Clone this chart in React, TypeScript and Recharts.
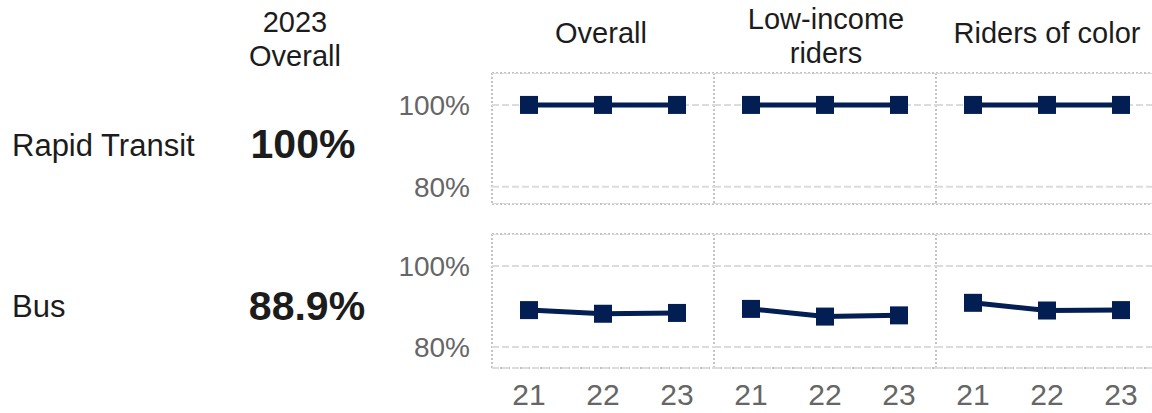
import React from "react";
import { LineChart, Line, XAxis, YAxis, CartesianGrid } from "recharts";

// years on the x axis of every panel
const YEARS = ["21", "22", "23"];
const COLUMNS = ["Overall", "Low-income riders", "Riders of color"];
const ROW_LABELS = ["Rapid Transit", "Bus"];
const OVERALL_2023 = ["100%", "88.9%"];
const Y_TICKS = [80, 100];

// share of trips on time, %
const RAPID_OVERALL = [100, 100, 100];
const RAPID_LOW_INCOME = [100, 100, 100];
const RAPID_RIDERS_OF_COLOR = [100, 100, 100];
const BUS_OVERALL = [89.1, 88.2, 88.4];
const BUS_LOW_INCOME = [89.4, 87.5, 87.8];
const BUS_RIDERS_OF_COLOR = [90.9, 89.0, 89.1];

const NAVY = "#021e52";
const FONT = "'Liberation Sans', Arial, sans-serif";
const TICK_GREY = "#666666";
const BORDER = "#c4c4c4";
const INK = "#1c1c1c";

const ROWS = [
  { series: [RAPID_OVERALL, RAPID_LOW_INCOME, RAPID_RIDERS_OF_COLOR], top: 73, plotH: 131, domain: [75.8, 107.8] },
  { series: [BUS_OVERALL, BUS_LOW_INCOME, BUS_RIDERS_OF_COLOR], top: 234, plotH: 134, domain: [74.8, 107.9] },
];

const PANEL_LEFT = [492, 714, 936];
const PANEL_W = 222;
const Y_AXIS_W = 112;
const X_AXIS_H = 45;

const SquareDot = (props: any) => {
  const { cx, cy } = props;
  if (cx == null || cy == null) return null;
  return <rect x={cx - 9} y={cy - 9} width={18} height={18} fill={NAVY} />;
};

function Panel({ values, col, row, isBottom }: { values: number[]; col: number; row: any; isBottom: boolean }) {
  const data = YEARS.map((y, i) => ({ year: y, value: values[i] }));
  const showY = col === 0;
  const width = PANEL_W + (showY ? Y_AXIS_W : 0);
  const height = row.plotH + (isBottom ? X_AXIS_H : 0);
  return (
    <div style={{ position: "absolute", left: PANEL_LEFT[col] - (showY ? Y_AXIS_W : 0), top: row.top }}>
      <LineChart width={width} height={height} data={data} margin={{ top: 0, right: 0, bottom: 0, left: 0 }}>
        <CartesianGrid vertical={false} stroke="#dcdcdc" strokeWidth={2} strokeDasharray="7 3" />
        <XAxis
          dataKey="year"
          scale="band"
          hide={!isBottom}
          height={X_AXIS_H}
          axisLine={false}
          tickLine={false}
          tickSize={0}
          tickMargin={16}
          tick={{ fill: TICK_GREY, fontSize: 30, fontFamily: FONT }}
          interval={0}
        />
        <YAxis
          type="number"
          domain={row.domain}
          ticks={Y_TICKS}
          hide={!showY}
          width={Y_AXIS_W}
          axisLine={false}
          tickLine={false}
          tickSize={0}
          tickMargin={22}
          tickFormatter={(v: number) => `${v}%`}
          tick={{ fill: TICK_GREY, fontSize: 28, fontFamily: FONT }}
          allowDataOverflow
        />
        <Line
          type="linear"
          dataKey="value"
          stroke={NAVY}
          strokeWidth={5}
          dot={<SquareDot />}
          activeDot={false}
          isAnimationActive={false}
        />
      </LineChart>
    </div>
  );
}

export default function App() {
  return (
    <div style={{ position: "absolute", left: 0, top: 0, width: 1152, height: 413, overflow: "hidden", background: "#fff", fontFamily: FONT }}>
      <svg width={1152} height={413} style={{ position: "absolute", left: 0, top: 0 }}>
        {/* panel frames */}
        {ROWS.map((row, r) => (
          <g key={r} stroke={BORDER} strokeWidth={2} strokeDasharray="2 2" fill="none">
            <line x1={PANEL_LEFT[0]} x2={1152} y1={row.top} y2={row.top} />
            <line x1={PANEL_LEFT[0]} x2={1152} y1={row.top + row.plotH} y2={row.top + row.plotH} />
            {PANEL_LEFT.map((x) => (
              <line key={x} x1={x} x2={x} y1={row.top} y2={row.top + row.plotH} />
            ))}
          </g>
        ))}
        {/* left header */}
        <text x={295} y={32} textAnchor="middle" fontSize={29} fill={INK}>2023</text>
        <text x={295} y={66} textAnchor="middle" fontSize={29} fill={INK}>Overall</text>
        {/* column headers */}
        <text x={601} y={43} textAnchor="middle" fontSize={29} fill={INK}>{COLUMNS[0]}</text>
        <text x={826} y={29} textAnchor="middle" fontSize={29} fill={INK}>Low-income</text>
        <text x={826} y={63} textAnchor="middle" fontSize={29} fill={INK}>riders</text>
        <text x={1047} y={43} textAnchor="middle" fontSize={29} fill={INK}>{COLUMNS[2]}</text>
        {/* row labels */}
        <text x={12} y={156} fontSize={31} fill={INK}>{ROW_LABELS[0]}</text>
        <text x={303} y={158} textAnchor="middle" fontSize={41} fontWeight="bold" fill={INK}>{OVERALL_2023[0]}</text>
        <text x={12} y={317} fontSize={31} fill={INK}>{ROW_LABELS[1]}</text>
        <text x={307} y={320} textAnchor="middle" fontSize={41} fontWeight="bold" fill={INK}>{OVERALL_2023[1]}</text>
      </svg>
      {ROWS.map((row, r) =>
        row.series.map((values, c) => (
          <Panel key={`${r}-${c}`} values={values} col={c} row={row} isBottom={r === ROWS.length - 1} />
        ))
      )}
    </div>
  );
}
